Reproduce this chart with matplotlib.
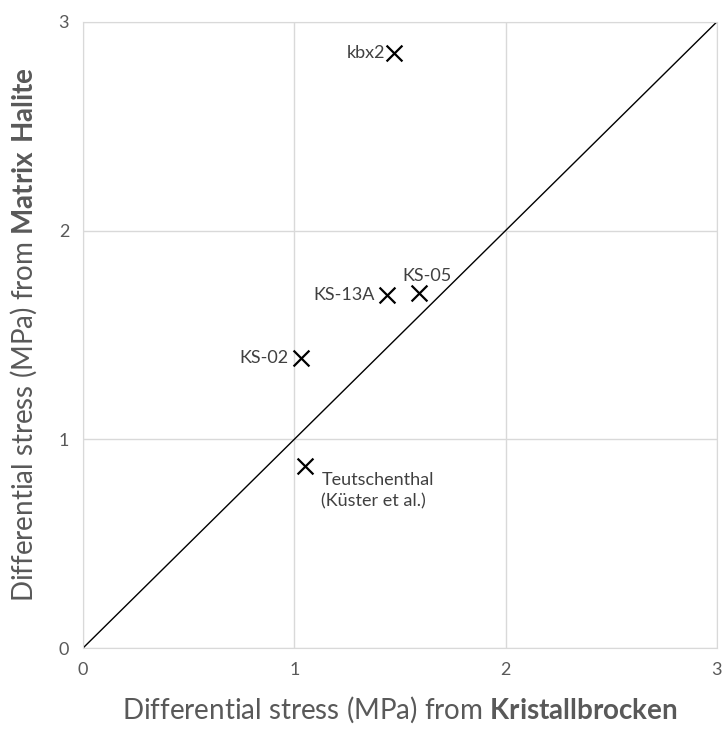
import matplotlib.pyplot as plt

# sample labels and stresses (MPa)
samples = ["kbx2", "KS-05", "KS-13A", "KS-02", "Teutschenthal\n(Küster et al.)"]
kristall = [1.47, 1.59, 1.44, 1.03, 1.05]
matrix = [2.85, 1.70, 1.69, 1.39, 0.87]

# label placement relative to the marker (offset in points, alignment)
label_pos = [
    ((-6, 0), "right", "center"),
    ((-12, 7), "left", "bottom"),
    ((-9, 0), "right", "center"),
    ((-9, 0), "right", "center"),
    ((12, -4), "left", "top"),
]

plt.rcParams["font.family"] = ["Lato", "DejaVu Sans"]
plt.rcParams["mathtext.fontset"] = "custom"
plt.rcParams["mathtext.rm"] = "Lato"
plt.rcParams["mathtext.bf"] = "Lato:bold"
grey = "#595959"

fig = plt.figure(figsize=(7.24, 7.29), dpi=100)
ax = fig.add_axes([0.1146, 0.111, 0.8755, 0.859])

ax.plot([0, 3], [0, 3], color="black", lw=1.0, zorder=2)
ax.scatter(kristall, matrix, marker="x", s=130, color="black", linewidths=1.6, zorder=3)

for name, x, y, (off, ha, va) in zip(samples, kristall, matrix, label_pos):
    ax.annotate(name, (x, y), xytext=off, textcoords="offset points",
                ha=ha, va=va, fontsize=13, color="#404040", linespacing=1.4)

ax.set_xlim(0, 3)
ax.set_ylim(0, 3)
ax.set_xticks([0, 1, 2, 3])
ax.set_yticks([0, 1, 2, 3])
ax.grid(True, color="#d9d9d9", lw=1.0)
ax.set_axisbelow(True)
for sp in ax.spines.values():
    sp.set_color("#d9d9d9")
ax.tick_params(length=0, labelsize=13, colors=grey, pad=10)

ax.set_xlabel(r"Differential stress (MPa) from $\bf{Kristallbrocken}$", fontsize=20, color=grey, labelpad=12)
ax.set_ylabel(r"Differential stress (MPa) from $\bf{Matrix\ Halite}$", fontsize=20, color=grey, labelpad=14)

fig.savefig("out.png", dpi=100)
